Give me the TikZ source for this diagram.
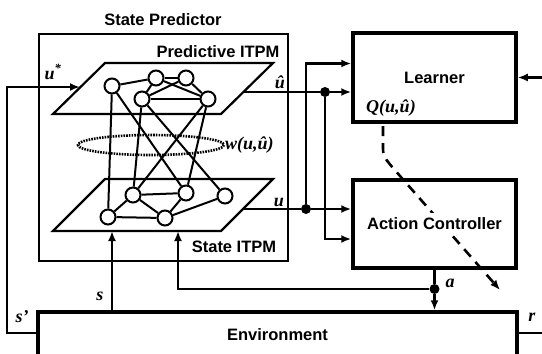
\documentclass[tikz,border=0pt]{standalone}
\usepackage{fontspec}
\setmainfont{Liberation Serif}
\setsansfont{Liberation Sans}
\usepackage{tikz}
\usetikzlibrary{arrows.meta, positioning, calc, backgrounds}
\newcommand{\boxfont}{\sffamily\bfseries\fontsize{16.5}{18}\selectfont}
\newcommand{\varfont}{\rmfamily\bfseries\itshape\fontsize{18}{20}\selectfont}
\tikzstyle{block} = [rectangle, draw=black, line width=3.5pt, minimum width=163pt, inner sep=0pt, font=\boxfont]
\tikzstyle{unit} = [circle, draw=black, fill=white, line width=2pt, minimum size=15pt, inner sep=0pt]
\tikzstyle{junc} = [circle, fill=black, minimum size=10pt, inner sep=0pt]
\tikzstyle{link} = [line width=2pt]
\tikzstyle{plane} = [line width=2.2pt, line join=miter]
\tikzstyle{arrow} = [line width=2.2pt, -{Latex[length=10pt,width=8pt]}]
\tikzstyle{var} = [inner sep=1pt, font=\varfont]

\begin{document}
\begin{tikzpicture}[x=1pt, y=-1pt, every node/.style={font=\boxfont}]
    \useasboundingbox (0,0) rectangle (542,354);

    % state predictor with its two ITPM planes
    \node (sp) [rectangle, draw, line width=2.2pt, minimum width=249pt, minimum height=227pt] at (163.5,147.5) {};
    \node (sptitle) at (163,20) {State Predictor};
    \draw [plane] (53,114) -- (221,114) -- (273,63) -- (105,63) -- cycle;
    \draw [plane] (53,231) -- (221,231) -- (273,179) -- (105,179) -- cycle;
    \node (ptitle) at (218,52) {Predictive ITPM};
    \node (stitle) at (234,247) {State ITPM};

    \node (a1) [unit] at (112,86) {};
    \node (a2) [unit] at (156,78) {};
    \node (a3) [unit] at (186,78) {};
    \node (a4) [unit] at (142,99) {};
    \node (a5) [unit] at (208,99) {};
    \node (b1) [unit] at (108,217) {};
    \node (b2) [unit] at (133,195) {};
    \node (b3) [unit] at (165,218) {};
    \node (b4) [unit] at (186,193) {};
    \node (b5) [unit] at (225,196) {};
    \foreach \i/\j in {a1/a2, a2/a3, a2/a4, a2/a5, a3/a4, a3/a5, a4/a5,
                       b1/b2, b1/b3, b2/b3, b2/b4, b3/b4, b3/b5,
                       a1/b1, a1/b4, a4/b2, a4/b5, a5/b2, a5/b4} {
        \draw [link] (\i) -- (\j);
    }
    \draw [line width=2.6pt, dash pattern=on 1.6pt off 1.1pt] (151,145) ellipse [x radius=73, y radius=10];
    \node (wlbl) [var, anchor=west] at (224,145) {w(u,û)};

    % learner, controller, environment
    \node (lrn) [block, minimum height=89pt] at (434.5,77.5) {Learner};
    \node (ac) [block, minimum height=88pt, label={[fill=white, inner sep=5pt, font=\boxfont]center:Action Controller}] at (434.5,224) {};
    \node (env) [block, minimum width=479pt, minimum height=46pt] at (277.5,335) {Environment};
    \node (qlbl) [var] at (391,108) {Q(u,û)};

    \node (jhat) [junc] at (325,92) {};
    \node (ju) [junc] at (306,209) {};
    \node (ja) [junc] at (434.5,289) {};
    \coordinate (uhatout) at (243,92);
    \coordinate (uout) at (243,209);
    \coordinate (ustarin) at (80,87);
    \coordinate (sin) at (112,231);
    \coordinate (ain) at (178,231);
    \coordinate (qstart) at (383,126);
    \coordinate (qend) at (500,290);

    \draw [arrow] (uhatout) -- (jhat) -- (jhat -| lrn.west);
    \draw [arrow] (jhat) |- ([yshift=-15pt]ac.west);
    \draw [arrow] (uout) -- (ju) -- (ju -| ac.west);
    \draw [arrow] (ju) |- ([yshift=14pt]lrn.west);
    \draw [arrow] (ac.south) -- (ja) -- (ja |- env.north);
    \draw [arrow] (ja) -| (ain);
    \draw [arrow] (sin |- env.north) -- (sin);
    \draw [arrow] ([yshift=2pt]env.west) -- ++(-29,0) |- (ustarin);
    \draw [arrow] ([yshift=2pt]env.east) -- ++(40,0) |- (lrn.east);

    \node (ustar) [var] at (53,72) {u\textsuperscript{*}};
    \node (uhat) [var] at (280,82) {û};
    \node (ulbl) [var] at (279,202) {u};
    \node (slbl) [var] at (100,296) {s};
    \node (sprime) [var] at (22,317) {s'};
    \node (albl) [var] at (450,283) {a};
    \node (rlbl) [var] at (532,317) {r};

    \begin{scope}[on background layer]
        \draw [arrow, line width=2.6pt, dash pattern=on 10pt off 7pt] (qstart) -- (383,145) .. controls (383,156) .. (393,168) -- (qend);
    \end{scope}
\end{tikzpicture}
\end{document}
